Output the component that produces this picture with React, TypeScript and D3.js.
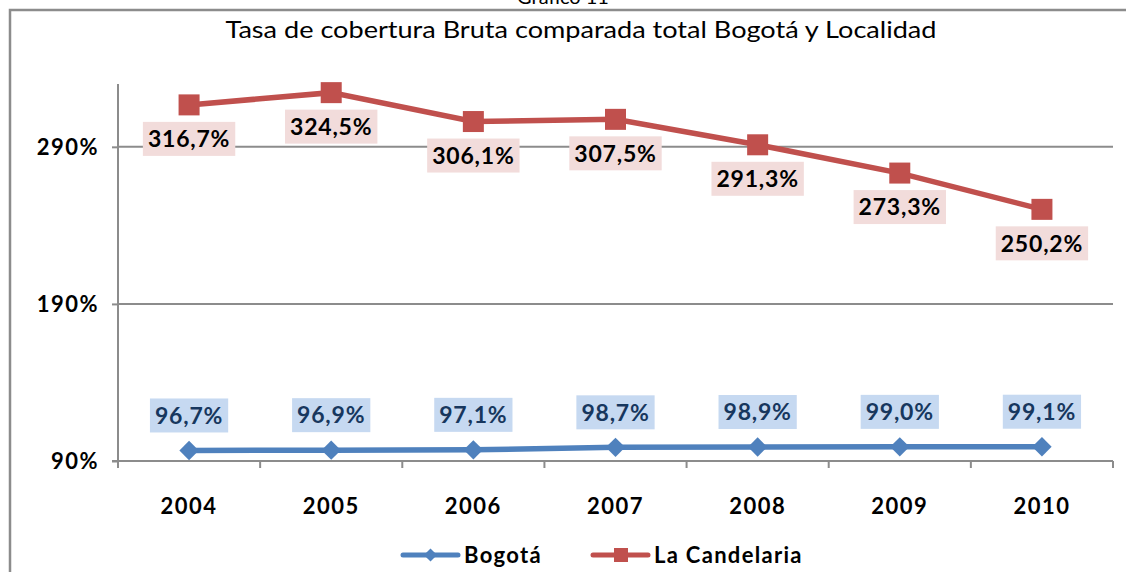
import React, { useEffect, useRef } from "react";
import * as d3 from "d3";

const years = ["2004", "2005", "2006", "2007", "2008", "2009", "2010"];
const bogota = [96.7, 96.9, 97.1, 98.7, 98.9, 99.0, 99.1];
const candelaria = [316.7, 324.5, 306.1, 307.5, 291.3, 273.3, 250.2];
const yTicks = [90, 190, 290];

const W = 1126;
const H = 572;
const FONT = "Lato, 'DejaVu Sans', sans-serif";

const fmt = (v: number) => v.toFixed(1).replace(".", ",") + "%";

export default function App() {
  const svgRef = useRef<SVGSVGElement | null>(null);

  useEffect(() => {
    const svg = d3.select(svgRef.current);
    svg.selectAll("*").remove();

    // marco del gráfico
    svg
      .append("path")
      .attr("d", `M10,${H + 5} L10,10 L${W + 5},10`)
      .attr("fill", "none")
      .attr("stroke", "#8c8c8c")
      .attr("stroke-width", 2.5);

    svg
      .append("text")
      .attr("x", 563)
      .attr("y", 4)
      .attr("text-anchor", "middle")
      .style("font-family", FONT)
      .style("font-size", "20px")
      .text("Gráfico 11");

    svg
      .append("text")
      .attr("x", 581)
      .attr("y", 38)
      .attr("text-anchor", "middle")
      .attr("textLength", 711)
      .attr("lengthAdjust", "spacingAndGlyphs")
      .style("font-family", FONT)
      .style("font-size", "24px")
      .text("Tasa de cobertura Bruta comparada total Bogotá y Localidad");

    const x = d3.scaleBand().domain(years).range([118, 1113]);
    const y = d3.scaleLinear().domain([90, 330]).range([461, 84]);
    const cx = (d: string) => (x(d) as number) + x.bandwidth() / 2;

    // rejilla
    svg
      .selectAll(".grid")
      .data(yTicks.slice(1))
      .enter()
      .append("line")
      .attr("x1", 118)
      .attr("x2", 1113)
      .attr("y1", (d) => y(d))
      .attr("y2", (d) => y(d))
      .attr("stroke", "#8c8c8c")
      .attr("stroke-width", 2);

    // eje Y
    const gy = svg.append("g").attr("transform", "translate(118,0)").call(
      d3.axisLeft(y).tickValues(yTicks).tickSize(6).tickFormat((d) => d + "%")
    );
    gy.select(".domain").attr("stroke", "#8c8c8c").attr("stroke-width", 2).attr("d", `M-6,${y(90)}H0V84`);
    gy.selectAll(".tick line").attr("stroke", "#8c8c8c").attr("stroke-width", 2);
    gy.selectAll(".tick text")
      .attr("x", -19)
      .attr("dy", "0.35em")
      .style("font-family", FONT)
      .style("font-size", "22px")
      .style("font-weight", "bold")
      .style("letter-spacing", "1.5px")
      .attr("fill", "#000");

    // eje X
    const gx = svg.append("g").attr("transform", `translate(0,${y(90)})`).call(
      d3.axisBottom(x).tickSize(0).tickPadding(37)
    );
    gx.select(".domain").attr("stroke", "#8c8c8c").attr("stroke-width", 2).attr("d", "M118,0H1113");
    gx.selectAll(".tick text")
      .style("font-family", FONT)
      .style("font-size", "22px")
      .style("font-weight", "bold")
      .style("letter-spacing", "1.5px")
      .attr("fill", "#000");
    svg
      .selectAll(".xtick")
      .data(d3.range(years.length + 1))
      .enter()
      .append("line")
      .attr("x1", (i) => 118 + i * x.step())
      .attr("x2", (i) => 118 + i * x.step())
      .attr("y1", y(90))
      .attr("y2", y(90) + 7)
      .attr("stroke", "#8c8c8c")
      .attr("stroke-width", 2);

    const line = d3
      .line<number>()
      .x((_, i) => cx(years[i]))
      .y((d) => y(d));

    // series
    svg
      .append("path")
      .datum(bogota)
      .attr("d", line)
      .attr("fill", "none")
      .attr("stroke", "#4f81bd")
      .attr("stroke-width", 5.5);
    svg
      .append("path")
      .datum(candelaria)
      .attr("d", line)
      .attr("fill", "none")
      .attr("stroke", "#c0504d")
      .attr("stroke-width", 5.5);

    svg
      .selectAll(".diamond")
      .data(bogota)
      .enter()
      .append("path")
      .attr("d", d3.symbol(d3.symbolDiamond2, 240)())
      .attr("transform", (d, i) => `translate(${cx(years[i])},${y(d)})`)
      .attr("fill", "#4f81bd");
    svg
      .selectAll(".square")
      .data(candelaria)
      .enter()
      .append("rect")
      .attr("x", (_, i) => cx(years[i]) - 10.5)
      .attr("y", (d) => y(d) - 10.5)
      .attr("width", 21)
      .attr("height", 21)
      .attr("fill", "#c0504d");

    // etiquetas
    const label = (
      vals: number[],
      above: boolean,
      bg: string,
      color: string
    ) => {
      vals.forEach((v, i) => {
        const g = svg.append("g");
        const t = g
          .append("text")
          .attr("x", cx(years[i]))
          .attr("text-anchor", "middle")
          .style("font-family", FONT)
          .style("font-size", "23px")
          .style("font-weight", "bold")
          .style("letter-spacing", "0.8px")
          .attr("fill", color)
          .text(fmt(v));
        const boxH = 34;
        const top = above ? y(v) - 18 - boxH : y(v) + 17;
        t.attr("y", top + boxH / 2).attr("dy", "0.36em");
        const w = (t.node() as SVGTextElement).getComputedTextLength() + 10;
        g.insert("rect", "text")
          .attr("x", cx(years[i]) - w / 2)
          .attr("y", top)
          .attr("width", w)
          .attr("height", boxH)
          .attr("fill", bg);
      });
    };
    label(bogota, true, "#c6d9f1", "#17375e");
    label(candelaria, false, "#f2dcdb", "#000");

    // leyenda
    const leg = svg.append("g");
    const items = [
      { name: "Bogotá", color: "#4f81bd", x1: 403, sym: "diamond" },
      { name: "La Candelaria", color: "#c0504d", x1: 593, sym: "square" },
    ];
    items.forEach((it) => {
      leg
        .append("line")
        .attr("x1", it.x1)
        .attr("x2", it.x1 + 55)
        .attr("y1", 555)
        .attr("y2", 555)
        .attr("stroke", it.color)
        .attr("stroke-width", 5)
        .attr("stroke-linecap", "round");
      if (it.sym === "diamond") {
        leg
          .append("path")
          .attr("d", d3.symbol(d3.symbolDiamond2, 110)())
          .attr("transform", `translate(${it.x1 + 27.5},555)`)
          .attr("fill", it.color);
      } else {
        leg
          .append("rect")
          .attr("x", it.x1 + 21)
          .attr("y", 548)
          .attr("width", 14)
          .attr("height", 14)
          .attr("fill", it.color);
      }
      leg
        .append("text")
        .attr("x", it.x1 + 61)
        .attr("y", 555)
        .attr("dy", "0.36em")
        .style("font-family", FONT)
        .style("font-size", "22px")
        .style("font-weight", "bold")
        .style("letter-spacing", "1.3px")
        .text(it.name);
    });
  }, []);

  return (
    <svg
      ref={svgRef}
      width={W}
      height={H}
      style={{ position: "absolute", left: 0, top: 0, background: "#fff" }}
    ></svg>
  );
}
